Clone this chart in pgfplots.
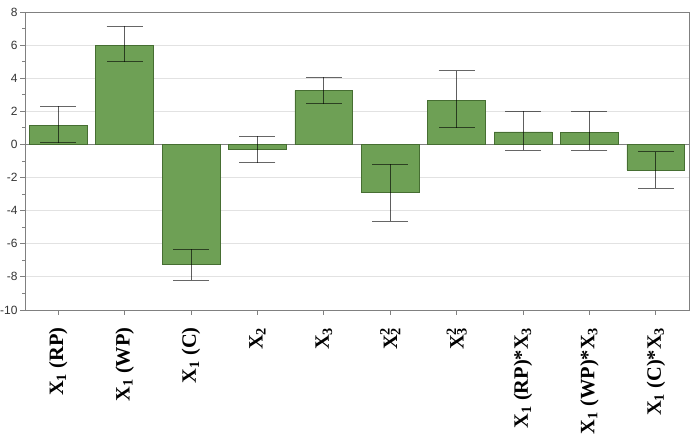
\documentclass[border=0pt]{standalone}
\usepackage{pgfplots}
\pgfplotsset{compat=1.18}
\usepackage{fontspec}
\setmainfont{Liberation Serif}
\newfontfamily\tickfont{Liberation Sans}
\definecolor{barfill}{RGB}{110,160,85}
\definecolor{barline}{RGB}{70,110,50}
\definecolor{axgray}{RGB}{128,128,128}
\definecolor{gridgray}{RGB}{226,226,226}

\pgfplotstableread{
x  y      ep    em
0  1.15   1.15  1.05
1  6.00   1.15  1.00
2  -7.25  0.90  0.95
3  -0.30  0.80  0.80
4  3.25   0.80  0.80
5  -2.90  1.70  1.75
6  2.65   1.80  1.65
7  0.75   1.25  1.10
8  0.70   1.30  1.05
9  -1.55  1.10  1.10
}\coefdata

\begin{document}
\begin{tikzpicture}
\begin{axis}[
    scale only axis,
    width=664bp, height=298bp,
    xmin=-0.5, xmax=9.5,
    ymin=-10, ymax=8,
    ytick={-10,-8,...,8},
    minor ytick={-9,-7,...,7},
    xtick={0,...,9},
    xtick pos=bottom, ytick pos=left,
    xticklabels={
      X\textsubscript{1} (RP),
      X\textsubscript{1} (WP),
      X\textsubscript{1} (C),
      X\textsubscript{2},
      X\textsubscript{3},
      X\rlap{\textsuperscript{2}}\textsubscript{2},
      X\rlap{\textsuperscript{2}}\textsubscript{3},
      X\textsubscript{1} (RP)*X\textsubscript{3},
      X\textsubscript{1} (WP)*X\textsubscript{3},
      X\textsubscript{1} (C)*X\textsubscript{3}},
    x tick label style={rotate=90, anchor=east, font=\fontsize{20.5}{20.5}\selectfont\bfseries, xshift=-9bp},
    y tick label style={font=\tickfont\fontsize{12}{12}\selectfont, color=black!80, xshift=1bp},
    /pgf/number format/assume math mode=true,
    tick align=outside,
    major tick length=5bp,
    minor tick length=3bp,
    tick style={axgray, line width=0.8pt},
    axis line style={axgray, line width=0.8pt},
    ymajorgrids,
    grid style={gridgray, line width=0.8pt},
    clip=false,
]
\coordinate (bbsw) at (rel axis cs:-0.0377,-0.446);
\coordinate (bbne) at (rel axis cs:1.015,1.040);
\draw[axgray, line width=0.8pt] (axis cs:-0.5,0) -- (axis cs:9.5,0);
\addplot[ybar, bar width=0.87, fill=barfill, draw=barline, line width=0.8pt,
    error bars/.cd, y dir=both, y explicit,
    error mark=|,
    error bar style={black, opacity=0.6, line width=0.8pt},
    error mark options={black, opacity=0.6, line width=0.8pt, mark size=18bp}]
  table[x=x, y=y, y error plus=ep, y error minus=em] {\coefdata};
\end{axis}
\pgfresetboundingbox
\path[use as bounding box] (bbsw) rectangle (bbne);
\end{tikzpicture}
\end{document}
